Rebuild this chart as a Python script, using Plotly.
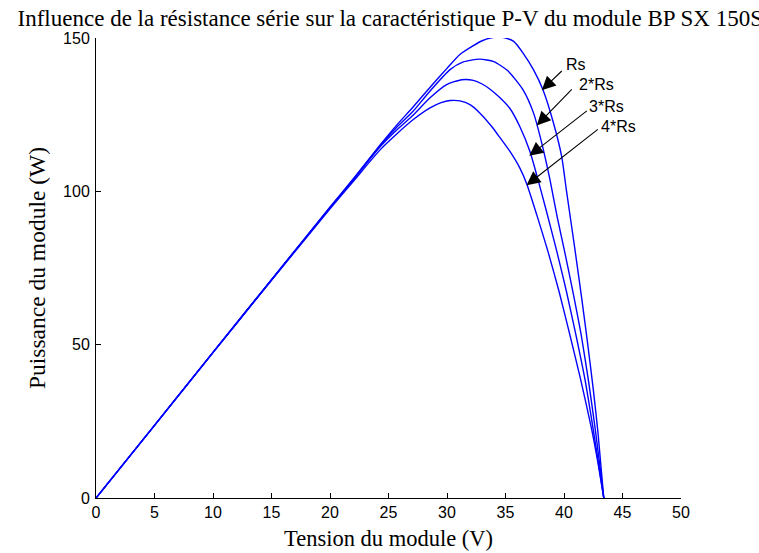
import plotly.graph_objects as go

# ---- data (Voltage V, Power W) ----
labels = ["Rs", "2*Rs", "3*Rs", "4*Rs"]

v_rs = [0, 5, 10, 15, 20, 22, 24.3, 25.7, 27.1, 28.8, 30.0, 31.1, 32.25, 33.0, 33.7, 34.4, 35.0,
        35.7, 36.5, 37.4, 38.2, 39.1, 39.8, 40.2, 40.9, 41.5, 42.0, 42.5, 42.9, 43.4]
p_rs = [0, 23.7, 47.5, 71.2, 94.8, 104.1, 115.2, 121.6, 127.5, 135.0, 140.1, 144.6, 147.5, 149.1, 150.0, 150.3, 150.0,
        148.9, 145.1, 139.6, 133.1, 122.3, 111.4, 100.5, 82.0, 65.5, 51.0, 35.5, 21.5, 0]

v_2rs = [0, 5, 10, 15, 20, 22, 24.3, 25.7, 27.1, 28.5, 30.26, 31.4, 32.8, 34.0, 35.2, 36.5, 37.4,
         38.1, 38.8, 39.4, 40.1, 40.8, 41.5, 42.1, 42.65, 43.0, 43.4]
p_2rs = [0, 23.7, 47.5, 71.2, 94.8, 104.0, 115.0, 120.9, 126.1, 132.5, 139.7, 142.2, 143.1, 142.3, 139.3, 133.1, 125.5,
         115.7, 103.8, 92.0, 79.5, 66.5, 52.5, 38.0, 23.0, 12.5, 0]

v_3rs = [0, 5, 10, 15, 20, 22, 24.3, 25.7, 27.1, 28.55, 29.97, 31.26, 32.25, 33.0, 33.68, 34.53, 35.38,
         36.24, 37.09, 37.8, 38.5, 39.38, 40.2, 41.0, 41.8, 42.5, 43.0, 43.4]
p_3rs = [0, 23.7, 47.5, 71.1, 94.6, 103.8, 114.6, 120.0, 124.8, 130.5, 134.8, 136.4, 136.2, 135.0, 133.3, 130.5, 127.0,
         121.0, 113.0, 103.5, 93.5, 80.5, 67.5, 53.5, 38.5, 22.3, 10.0, 0]

v_4rs = [0, 5, 10, 15, 20, 22, 24.3, 25.7, 27.12, 28.55, 29.5, 30.26, 31.11, 32.0, 32.82, 33.96, 34.53,
         35.38, 36.24, 36.81, 37.7, 38.66, 39.6, 40.45, 41.4, 42.37, 42.9, 43.4]
p_4rs = [0, 23.7, 47.4, 71.0, 94.3, 103.3, 113.6, 118.7, 123.4, 127.2, 128.9, 129.6, 129.5, 128.2, 125.5, 120.5, 117.5,
         113.0, 107.5, 102.5, 92.0, 80.0, 67.0, 54.0, 39.0, 22.3, 11.5, 0]

x_ticks = [0, 5, 10, 15, 20, 25, 30, 35, 40, 45, 50]
y_ticks = [0, 50, 100, 150]

title_text = "Influence de la résistance série sur la caractéristique P-V du module BP SX 150S"
x_title = "Tension du module (V)"
y_title = "Puissance du module (W)"

series = [(v_rs, p_rs), (v_2rs, p_2rs), (v_3rs, p_3rs), (v_4rs, p_4rs)]

fig = go.Figure()
for (vx, py), name in zip(series, labels):
    fig.add_trace(go.Scatter(x=vx, y=py, mode="lines", name=name,
                             line=dict(color="#0000ff", width=1.4, shape="spline", smoothing=0.6),
                             showlegend=False, hoverinfo="skip"))

# arrows (tip on curve, tail near label) and labels
arrow_tips = [(38.1, 133.0), (37.67, 121.5), (37.03, 111.6), (36.8, 102.0)]
arrow_tails = [(39.94, 139.7), (40.79, 133.7), (42.08, 126.6), (43.02, 120.6)]
label_pos = [(41.03, 141.2), (42.78, 134.8), (43.63, 127.7), (44.62, 121.2)]

for (tx, ty), (ax, ay), (lx, ly), lab in zip(arrow_tips, arrow_tails, label_pos, labels):
    fig.add_annotation(x=tx, y=ty, ax=ax, ay=ay, xref="x", yref="y", axref="x", ayref="y",
                       text="", showarrow=True, arrowhead=2, arrowsize=2.5, arrowwidth=1.1,
                       arrowcolor="black", standoff=0, startstandoff=0)
    fig.add_annotation(x=lx, y=ly, xref="x", yref="y", text=lab, showarrow=False,
                       font=dict(family="Liberation Sans, Arial", size=16, color="black"))

axis_common = dict(showline=True, linecolor="black", linewidth=1, ticks="inside", ticklen=5,
                   tickcolor="black", showgrid=False, zeroline=False, mirror=False,
                   automargin=False,
                   tickfont=dict(family="Liberation Sans, Arial", size=16, color="black"))

serif = "Liberation Serif, Times New Roman"
fig.update_layout(
    width=759, height=553, autosize=False,
    margin=dict(l=96, r=78, t=38, b=55),
    paper_bgcolor="white", plot_bgcolor="white",
    title=dict(text=title_text, x=0.503, xref="paper", xanchor="center",
               y=1 - 18 / 553, yref="container", yanchor="middle",
               font=dict(family=serif, size=23, color="black")),
    xaxis=dict(range=[0, 50], tickvals=x_ticks, **axis_common,
               title=dict(text=x_title, standoff=10,
                          font=dict(family=serif, size=22.5, color="black"))),
    yaxis=dict(range=[0, 150], tickvals=y_ticks, ticklabelstandoff=2, **axis_common,
               title=dict(text=y_title, standoff=10,
                          font=dict(family=serif, size=23.5, color="black"))),
)

fig.write_html("out.html")
